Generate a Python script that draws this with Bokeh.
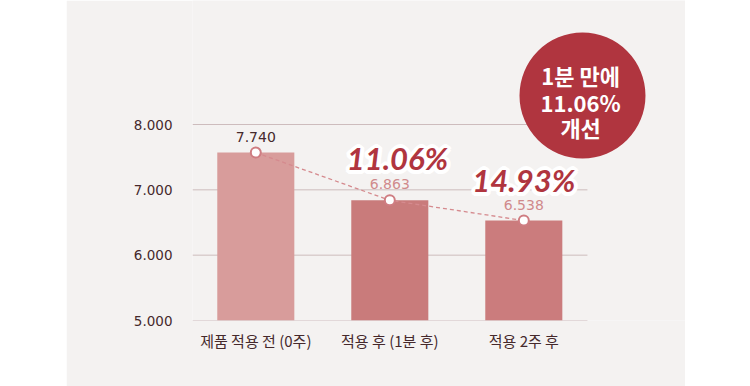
import math
from bokeh.plotting import figure
from bokeh.models import Range1d, FixedTicker, ColumnDataSource, Spacer
from bokeh.layouts import row
from bokeh.core.properties import value
from bokeh.embed import file_html
from bokeh.resources import INLINE

# ---- data ----
categories = ["제품 적용 전 (0주)", "적용 후 (1분 후)", "적용 2주 후"]
bar_values = [7.57, 6.84, 6.53]          # drawn bar heights
value_labels = ["7.740", "6.863", "6.538"]
y_ticks = [5, 6, 7, 8]
y_tick_labels = ["5.000", "6.000", "7.000", "8.000"]
improvements = ["11.06%", "14.93%"]
badge_lines = ["1분 만에", "11.06%", "개선"]

# ---- styles ----
PANEL = "#f4f2f1"
BAR_COLORS = ["#d89c9b", "#c97b7b", "#cb7c7d"]
GRID = "#cdbcbd"
DARK = "#45292c"
PINK = "#d08a8c"
RED = "#b0353f"
NUM_FONT = "DejaVu Sans"
BIG_FONT = "Lato"
KR_FONT = "Noto Sans CJK KR"

xs = list(range(len(categories)))

p = figure(width=619, height=386, output_backend="svg", toolbar_location=None,
           x_range=Range1d(-0.4724, 3.2067), y_range=Range1d(5, 9.898),
           min_border_left=126, min_border_right=0, min_border_top=0,
           min_border_bottom=66)
p.background_fill_color = PANEL
p.border_fill_color = PANEL
p.outline_line_color = None
p.xgrid.visible = False
p.ygrid.visible = False

# gridlines (stop short of the right edge like the reference)
p.segment(x0=[-0.4724] * len(y_ticks), y0=y_ticks, x1=[2.475] * len(y_ticks), y1=y_ticks,
          line_color=GRID, line_width=1)

src = ColumnDataSource(dict(x=xs, top=bar_values, color=BAR_COLORS, lab=value_labels,
                            labcol=[DARK, PINK, PINK]))
p.vbar(x="x", top="top", bottom=5, width=0.575, fill_color="color", line_color=None, source=src)

# dashed connecting line + markers
p.line(x="x", y="top", source=src, line_color="#d58a8e", line_width=1.3, line_dash="4 3")
p.scatter(x="x", y="top", source=src, marker="circle", size=10, fill_color="white",
          line_color="#cf7d82", line_width=2)

# value labels
p.text(x="x", y="top", text="lab", source=src, text_color="labcol",
       text_font=value(NUM_FONT), text_font_size="14px", text_align="center",
       text_baseline="middle", y_offset=-16)

# improvement percentages with a thick white halo
imp_x = [1.057, 2.0]
imp_y = [7.48, 7.143]
for k in range(16):
    a = 2 * math.pi * k / 16
    p.text(x=imp_x, y=imp_y, text=improvements, text_color="white",
           text_font=value(BIG_FONT), text_font_size="31px", text_font_style="bold italic",
           text_align="center", text_baseline="middle",
           x_offset=4 * math.cos(a), y_offset=4 * math.sin(a))
p.text(x=imp_x, y=imp_y, text=improvements, text_color=RED,
       text_font=value(BIG_FONT), text_font_size="31px", text_font_style="bold italic",
       text_align="center", text_baseline="middle")

# badge
p.scatter(x=[2.438], y=[8.444], marker="circle", size=126, fill_color=RED, line_color=None)
bsrc = ColumnDataSource(dict(x=[2.424] * 3, y=[8.444] * 3, t=badge_lines, dy=[-20, 6.5, 32]))
p.text(x="x", y="y", text="t", y_offset="dy", source=bsrc, text_color="white",
       text_font=value(KR_FONT), text_font_size="22px", text_font_style="bold",
       text_align="center", text_baseline="middle")

# axes
p.yaxis.ticker = FixedTicker(ticks=y_ticks)
p.yaxis.major_label_overrides = dict(zip(y_ticks, y_tick_labels))
p.yaxis.axis_line_color = None
p.yaxis.major_tick_line_color = None
p.yaxis.minor_tick_line_color = None
p.yaxis.major_label_standoff = 14
p.yaxis.major_label_text_font = NUM_FONT
p.yaxis.major_label_text_font_size = "13.5px"
p.yaxis.major_label_text_color = DARK

p.xaxis.ticker = FixedTicker(ticks=xs)
p.xaxis.major_label_overrides = dict(zip(xs, categories))
p.xaxis.axis_line_color = None
p.xaxis.major_tick_line_color = None
p.xaxis.minor_tick_line_color = None
p.xaxis.major_label_standoff = 3
p.xaxis.major_label_text_font = KR_FONT
p.xaxis.major_label_text_font_size = "15px"
p.xaxis.major_label_text_color = DARK

layout = row(Spacer(width=66, height=386), p)
open("out.html", "w").write(file_html(layout, INLINE))
